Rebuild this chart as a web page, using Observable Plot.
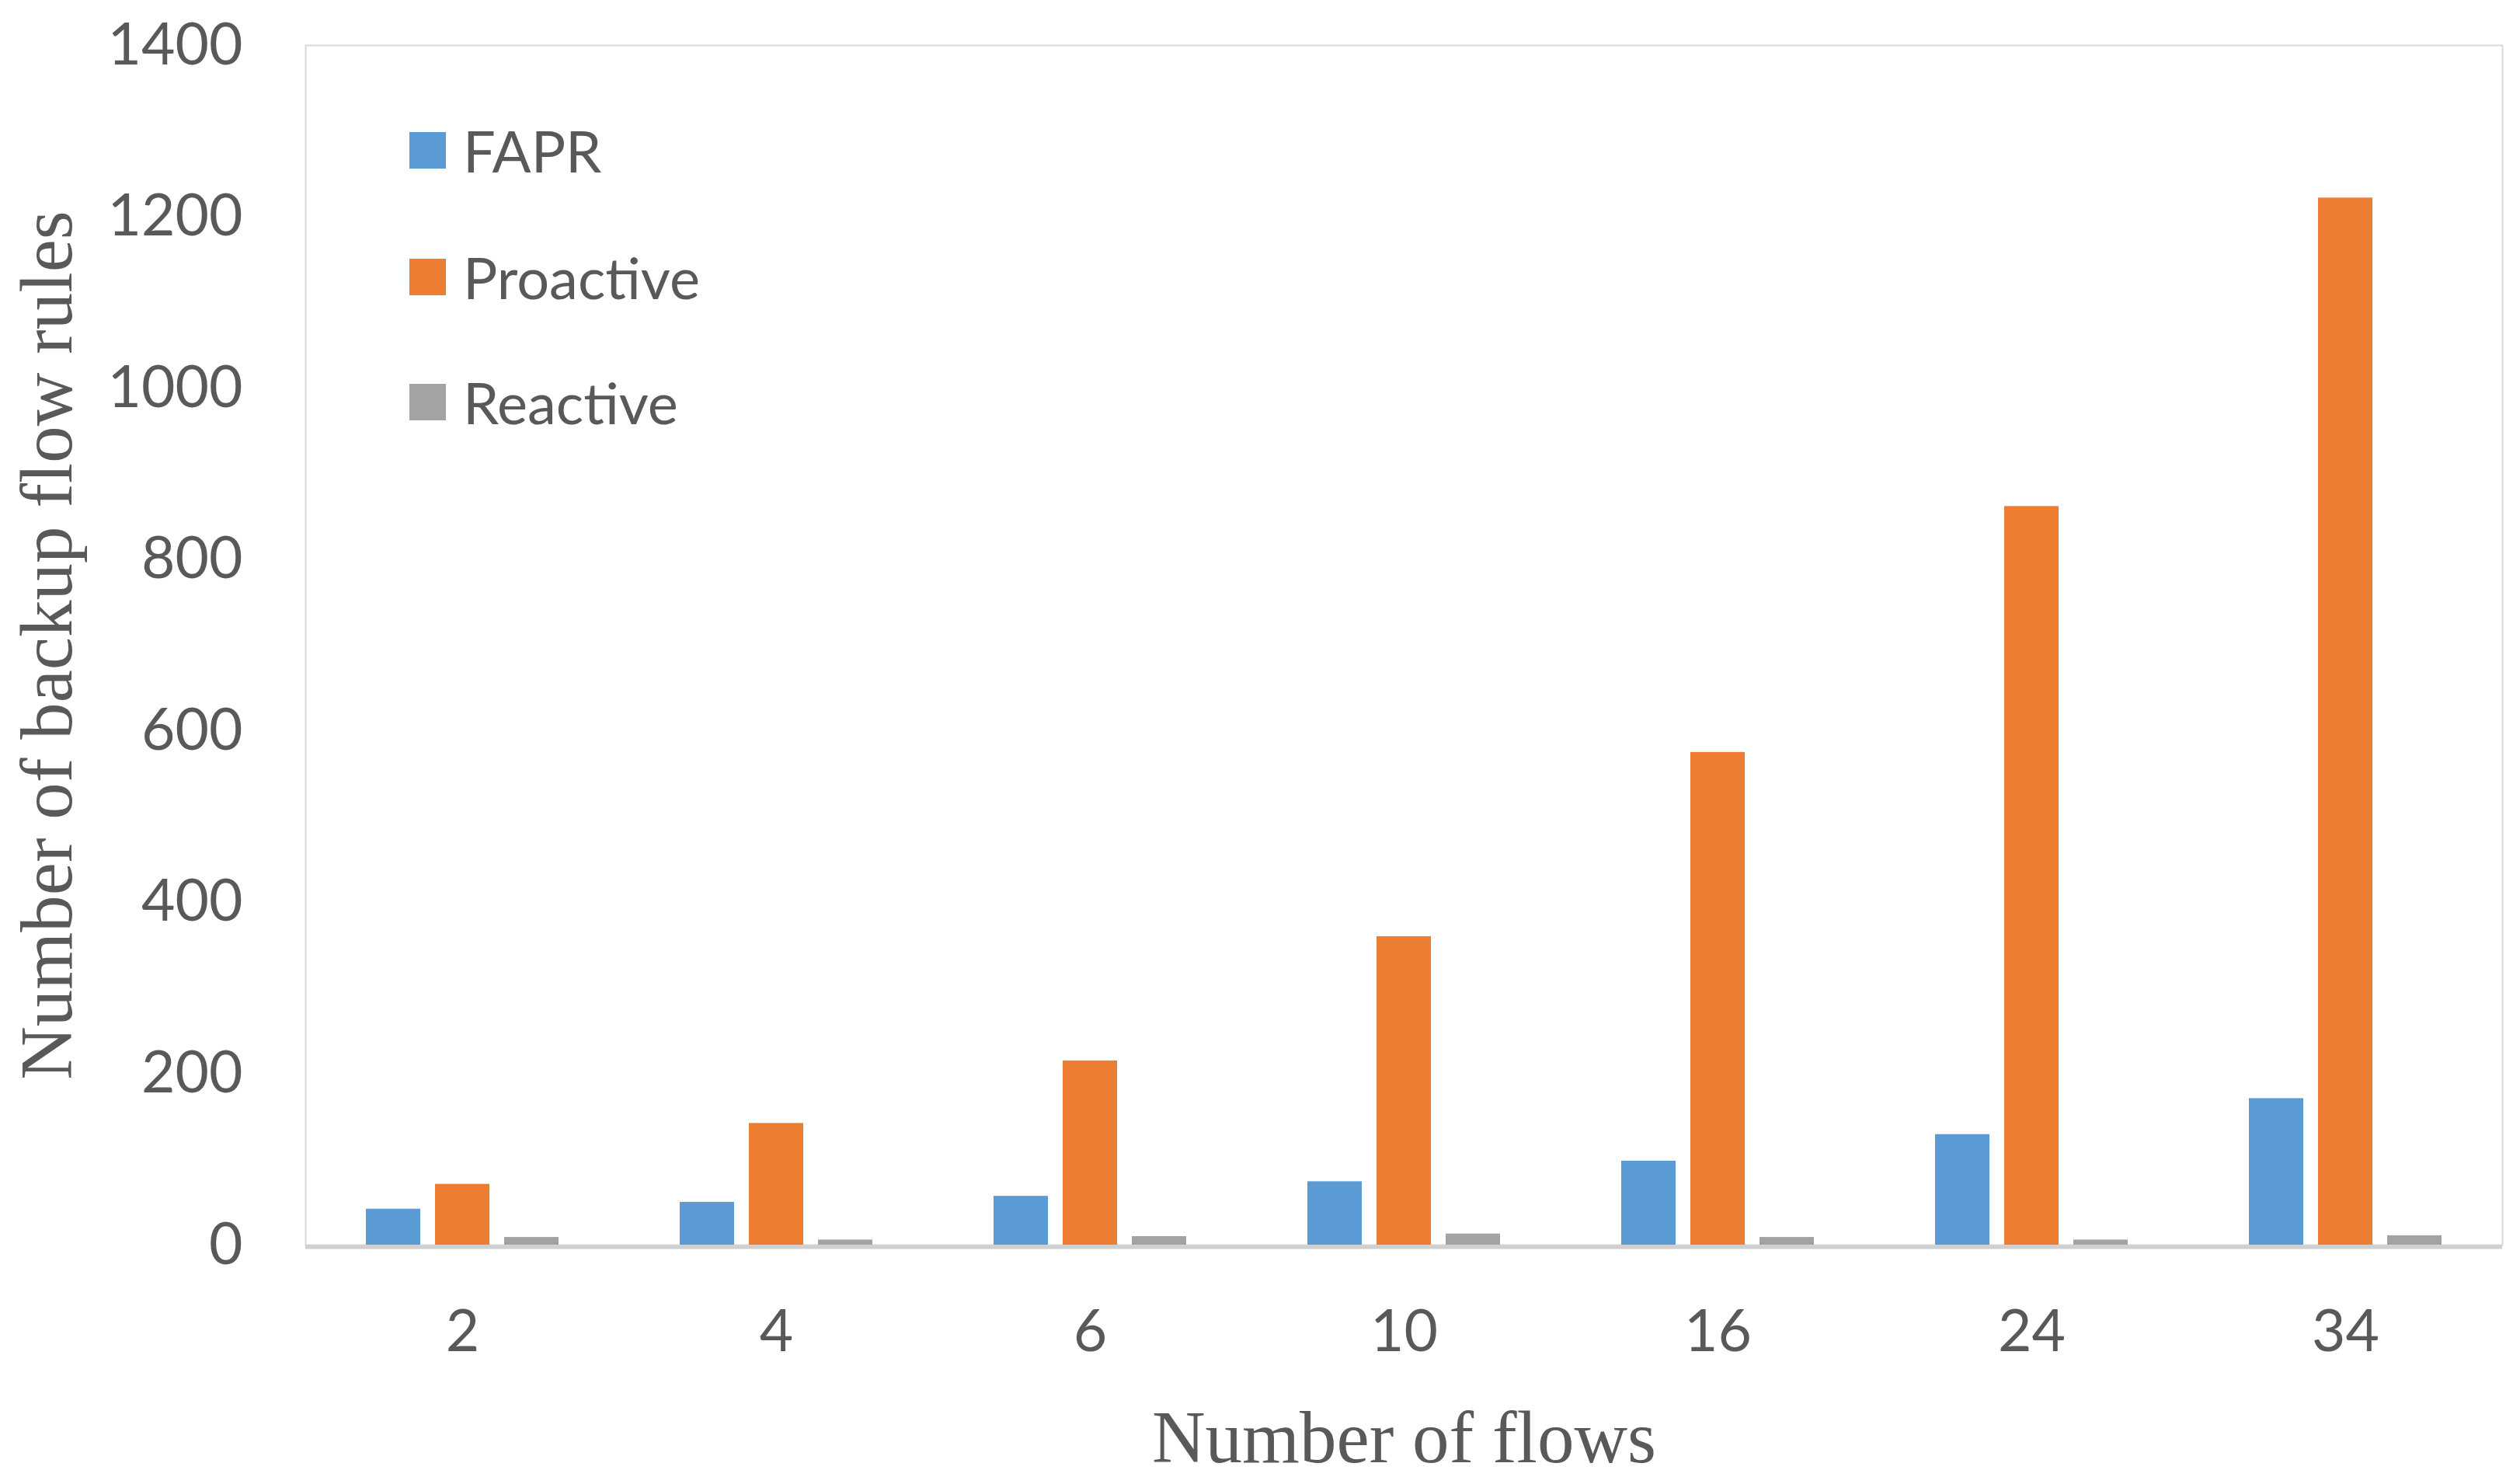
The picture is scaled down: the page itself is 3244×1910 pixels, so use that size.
<!DOCTYPE html>
<html>
<head>
<meta charset="utf-8">
<script src="https://cdn.jsdelivr.net/npm/d3@7"></script>
<script src="https://cdn.jsdelivr.net/npm/@observablehq/plot@0.6"></script>
<style>
  html, body { margin: 0; padding: 0; background: #ffffff; }
  #wrap { position: relative; width: 3244px; height: 1910px; overflow: hidden; }
  .legend { position: absolute; left: 527px; top: 0; font-family: Lato, sans-serif; font-size: 74px; color: #595959; }
  .legend .item { position: absolute; left: 0; height: 47px; white-space: nowrap; }
  .legend .sw { position: absolute; left: 0; top: 0; width: 47px; height: 47px; }
  .legend .lbl { position: absolute; left: 69px; top: 50%; transform: translateY(-50%); line-height: 1; }
</style>
</head>
<body>
<div id="wrap"></div>
<script>
// ---- data ----
const flows = ["2", "4", "6", "10", "16", "24", "34"];
const seriesNames = ["FAPR", "Proactive", "Reactive"];
const faprValues = [42, 50, 57, 74, 98, 129, 171];
const proactiveValues = [71, 142, 215, 360, 575, 862, 1222];
const reactiveValues = [9, 6, 10, 13, 9, 6, 11];
const yTicks = [0, 200, 400, 600, 800, 1000, 1200, 1400];
const seriesColors = ["#5b9bd5", "#ed7d31", "#a3a3a3"];
const xTitle = "Number of flows";
const yTitle = "Number of backup flow rules";

const valuesBySeries = [faprValues, proactiveValues, reactiveValues];
const table = [];
seriesNames.forEach((s, si) => {
  flows.forEach((f, i) => table.push({flows: f, series: s, value: valuesBySeries[si][i]}));
});

const W = 3244, H = 1910;
const barOffsets = [-89, 0, 89];   // group layout (pixels) within each category band
const barInset = 167;               // band 404px -> bar width 70px

const chart = Plot.plot({
  width: W,
  height: H,
  marginLeft: 393,
  marginRight: 23,
  marginTop: 58,
  marginBottom: 308,
  style: {fontFamily: "Lato, sans-serif", fontSize: "75px", color: "#595959", background: "#ffffff"},
  x: {type: "band", domain: flows, padding: 0, tickSize: 0, tickPadding: 83, label: null},
  y: {domain: [0, 1400], ticks: yTicks, tickSize: 0, tickPadding: 81, label: null, tickFormat: d => String(d)},
  marks: [
    Plot.frame({stroke: "#d9d9d9", strokeWidth: 2}),
    ...seriesNames.map((s, si) =>
      Plot.barY(table.filter(d => d.series === s), {
        x: "flows", y: "value", fill: seriesColors[si],
        insetLeft: barInset, insetRight: barInset, dx: barOffsets[si]
      })
    ),
    Plot.ruleY([0], {stroke: "#d0d0d0", strokeWidth: 5, dy: 2.5}),
    Plot.text([xTitle], {frameAnchor: "bottom", dy: 249, lineAnchor: "middle", textAnchor: "middle", fontSize: 95,
      fontFamily: "'Liberation Serif', 'Times New Roman', serif", fill: "#595959"}),
    Plot.text([yTitle], {frameAnchor: "left", rotate: -90, dx: -332, lineAnchor: "middle", textAnchor: "middle", fontSize: 95,
      fontFamily: "'Liberation Serif', 'Times New Roman', serif", fill: "#595959"})
  ]
});

const wrap = document.getElementById("wrap");
wrap.appendChild(chart);

// legend (overlay in the upper-left of the plot area)
const legend = document.createElement("div");
legend.className = "legend";
const legendTops = [170, 333, 494];
seriesNames.forEach((s, si) => {
  const item = document.createElement("div");
  item.className = "item";
  item.style.top = legendTops[si] + "px";
  const sw = document.createElement("div");
  sw.className = "sw";
  sw.style.background = seriesColors[si];
  const lbl = document.createElement("span");
  lbl.className = "lbl";
  lbl.textContent = s;
  item.appendChild(sw);
  item.appendChild(lbl);
  legend.appendChild(item);
});
wrap.appendChild(legend);
</script>
</body>
</html>
